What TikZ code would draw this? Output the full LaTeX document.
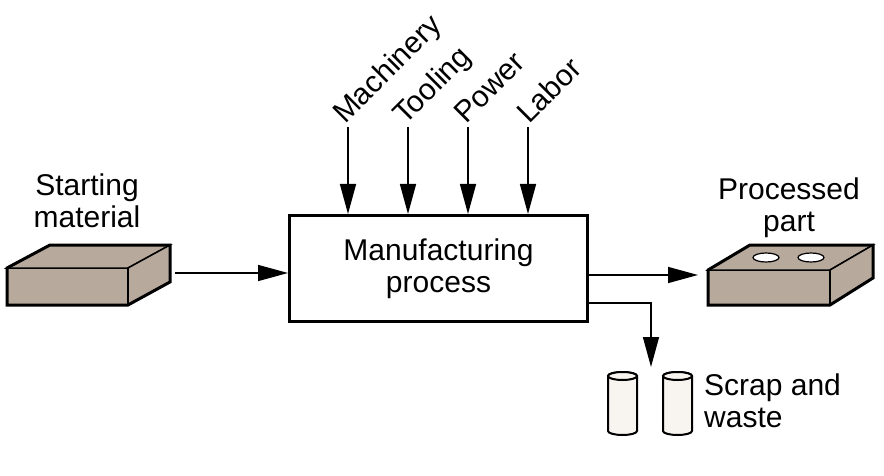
\documentclass[tikz,border=0pt]{standalone}
\usepackage{fontspec}
\setmainfont{Liberation Sans}
\usetikzlibrary{arrows.meta}
\definecolor{blockfill}{RGB}{183,170,157}
\definecolor{canfill}{RGB}{248,244,239}
\tikzset{
  face/.style={draw=black, line width=1.5pt, fill=blockfill, line join=miter},
  rim/.style={draw=black, line width=3pt, line join=miter},
  flow/.style={-{Triangle[length=30pt,width=16pt]}, line width=1.5pt},
  lbl/.style={font=\fontsize{30}{32}\selectfont, inner sep=0pt},
  procbox/.style={draw=black, line width=3pt, minimum width=298pt, minimum height=106pt, align=center, font=\fontsize{30}{32}\selectfont, inner sep=0pt},
  can/.style={draw=black, line width=2pt, fill=canfill},
  hole/.style={draw=black, line width=1.2pt, fill=white}
}
\begin{document}
\begin{tikzpicture}[x=1pt,y=-1pt]
\useasboundingbox (0,0) rectangle (884,476);
\node[procbox] (proc) at (438.5,268.5) {Manufacturing\\process};
% starting material
\draw[face] (7,268) -- (128,268) -- (128,305) -- (7,305) -- cycle;
\draw[face] (7,268) -- (50,245) -- (170,245) -- (128,268) -- cycle;
\draw[face] (128,268) -- (170,245) -- (170,282) -- (128,305) -- cycle;
\draw[rim] (7,268) -- (50,245) -- (170,245) -- (170,282) -- (128,305) -- (7,305) -- cycle;
\node[lbl, align=center, anchor=north] (startlbl) at (87,174) {Starting\\material};
\coordinate (startout) at (175,273);
\draw[flow] (startout) -- (startout -| proc.west);
% inputs
\node[lbl, rotate=45, anchor=base west] (mach) at (345,125) {Machinery};
\node[lbl, rotate=45, anchor=base west] (tool) at (405,126) {Tooling};
\node[lbl, rotate=45, anchor=base west] (power) at (466,125) {Power};
\node[lbl, rotate=45, anchor=base west] (labor) at (529,125) {Labor};
\coordinate (machin) at (348,127);
\coordinate (toolin) at (408,127);
\coordinate (powerin) at (468,127);
\coordinate (laborin) at (528,127);
\draw[flow] (machin) -- (machin |- proc.north);
\draw[flow] (toolin) -- (toolin |- proc.north);
\draw[flow] (powerin) -- (powerin |- proc.north);
\draw[flow] (laborin) -- (laborin |- proc.north);
% processed part
\coordinate (partin) at (698,275);
\draw[flow] (partin -| proc.east) -- (partin);
\draw[face] (708,270) -- (830,270) -- (830,305) -- (708,305) -- cycle;
\draw[face] (708,270) -- (750,245) -- (873,245) -- (830,270) -- cycle;
\draw[face] (830,270) -- (873,245) -- (873,278) -- (830,305) -- cycle;
\draw[rim] (708,270) -- (750,245) -- (873,245) -- (873,278) -- (830,305) -- (708,305) -- cycle;
\draw[hole] (766,257.5) ellipse[x radius=13, y radius=4.5];
\draw[hole] (811,257.5) ellipse[x radius=13, y radius=4.5];
\node[lbl, align=center, anchor=north] (partlbl) at (789,178) {Processed\\part};
% scrap and waste
\coordinate (scrapbend) at (651,303);
\coordinate (scrapin) at (651,367);
\draw[flow] (scrapbend -| proc.east) -- (scrapbend) -- (scrapin);
\draw[can] (608,376) -- (608,431) arc[start angle=180, end angle=0, x radius=14.5, y radius=4] -- (637,376) arc[start angle=0, end angle=-180, x radius=14.5, y radius=4] -- cycle;
\draw[can] (622.5,376) ellipse[x radius=14.5, y radius=4];
\draw[can] (663,376) -- (663,431) arc[start angle=180, end angle=0, x radius=14.5, y radius=4] -- (692,376) arc[start angle=0, end angle=-180, x radius=14.5, y radius=4] -- cycle;
\draw[can] (677.5,376) ellipse[x radius=14.5, y radius=4];
\node[lbl, align=left, anchor=north west] (scraplbl) at (704,374) {Scrap and\\waste};
\end{tikzpicture}
\end{document}
